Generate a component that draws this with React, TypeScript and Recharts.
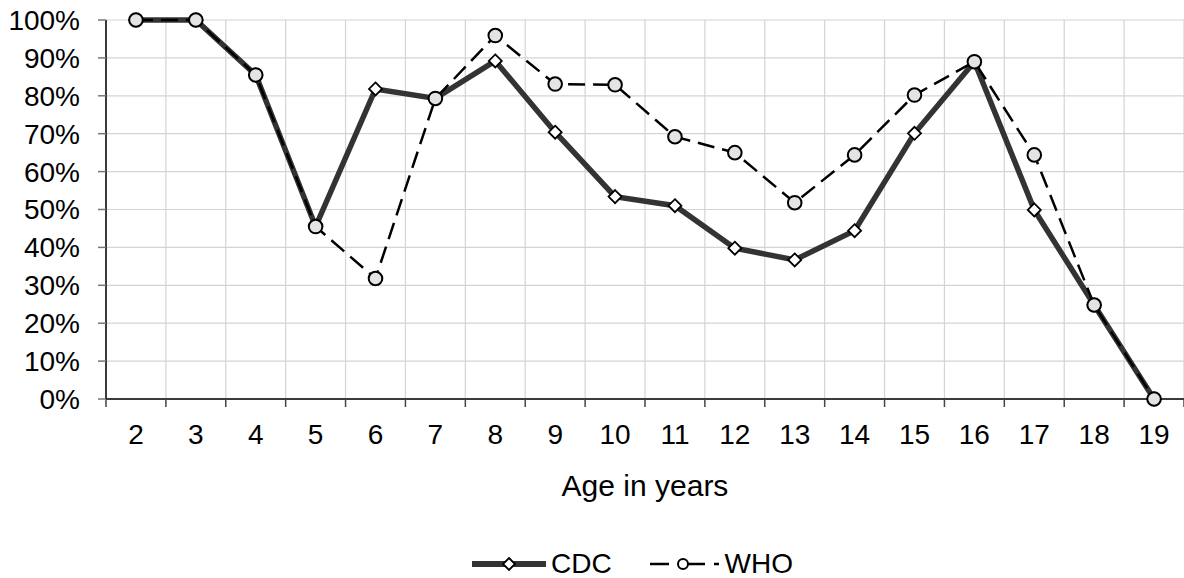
import { LineChart, Line, XAxis, YAxis, CartesianGrid, Legend } from "recharts";

const ages = [2, 3, 4, 5, 6, 7, 8, 9, 10, 11, 12, 13, 14, 15, 16, 17, 18, 19];
const cdc = [100, 100, 85.5, 45.5, 81.8, 79.3, 89.2, 70.4, 53.4, 51, 39.8, 36.7, 44.4, 70.1, 89, 49.9, 24.8, 0];
const who = [100, 100, 85.5, 45.5, 31.8, 79.3, 95.9, 83.1, 82.9, 69.2, 65, 51.8, 64.4, 80.2, 89, 64.4, 24.8, 0];
const yTicks = [0, 10, 20, 30, 40, 50, 60, 70, 80, 90, 100];

const data = ages.map((age, i) => ({ age, CDC: cdc[i], WHO: who[i] }));

const W = 1184;
const H = 578;
const yAxisW = 106;
const legendH = 40;
const font = "'Liberation Sans', Arial, sans-serif";

// gridlines and tick marks sit between the ages, labels in the middle
const lastAge = ages[ages.length - 1];
const bounds = [...ages.map((a) => a - 0.5), lastAge + 0.5];
const halfBand = (W - yAxisW) / ages.length / 2;

const AgeTick = (props: any) => {
  const { x, y, payload } = props;
  if (payload.value > lastAge) return <g />;
  return (
    <text x={x + halfBand} y={y} dy="0.71em" textAnchor="middle" fontSize={28} fill="#000" fontFamily={font}>
      {payload.value + 0.5}
    </text>
  );
};

const Diamond = (props: any) => {
  const { cx, cy, index } = props;
  const s = 6.5;
  return (
    <path
      key={`cdc-${index}`}
      d={`M${cx},${cy - s}L${cx + s},${cy}L${cx},${cy + s}L${cx - s},${cy}Z`}
      fill="#fff"
      stroke="#000"
      strokeWidth={1.8}
    />
  );
};

const Ring = (props: any) => {
  const { cx, cy, index } = props;
  return <circle key={`who-${index}`} cx={cx} cy={cy} r={6.8} fill="#e4e4e4" stroke="#000" strokeWidth={2} />;
};

const renderLegend = () => (
  <div
    style={{
      height: legendH,
      boxSizing: "border-box",
      display: "flex",
      justifyContent: "center",
      alignItems: "center",
      paddingLeft: 81,
      paddingTop: 12,
      fontFamily: font,
      fontSize: 28,
      color: "#000",
    }}
  >
    <svg width={74} height={20}>
      <line x1={0} y1={10} x2={74} y2={10} stroke="#333" strokeWidth={6} strokeLinecap="round" />
      <path d="M37,4L43,10L37,16L31,10Z" fill="#fff" stroke="#000" strokeWidth={1.8} />
    </svg>
    <span style={{ marginLeft: 5 }}>CDC</span>
    <svg width={70} height={20} style={{ marginLeft: 38 }}>
      <line x1={0} y1={10} x2={19} y2={10} stroke="#000" strokeWidth={2.5} />
      <circle cx={33} cy={10} r={5} fill="#fff" stroke="#000" strokeWidth={2} />
      <line x1={38} y1={10} x2={55} y2={10} stroke="#000" strokeWidth={2.5} />
      <line x1={64} y1={10} x2={69} y2={10} stroke="#000" strokeWidth={2.5} />
    </svg>
    <span style={{ marginLeft: 5 }}>WHO</span>
  </div>
);

export default function App() {
  return (
    <div style={{ width: W, height: H, background: "#fff" }}>
      <style>{"body{margin:0}"}</style>
      <LineChart width={W} height={H} data={data} margin={{ top: 20, right: 0, bottom: 0, left: 0 }}>
        <CartesianGrid stroke="#d4d4d4" strokeWidth={1.2} />
        <XAxis
          dataKey="age"
          type="number"
          domain={[bounds[0], bounds[bounds.length - 1]]}
          ticks={bounds}
          interval={0}
          tick={<AgeTick />}
          tickSize={8}
          tickMargin={17}
          axisLine={{ stroke: "#000", strokeWidth: 1.5 }}
          tickLine={{ stroke: "#444", strokeWidth: 1.5 }}
          height={H - 20 - 379 - legendH}
          label={{ value: "Age in years", position: "insideTop", offset: 76, fontSize: 30, fill: "#000", fontFamily: font }}
        />
        <YAxis
          domain={[0, 100]}
          ticks={yTicks}
          interval={0}
          tickFormatter={(v: number) => `${v}%`}
          width={yAxisW}
          tickSize={8}
          tickMargin={18}
          tick={{ fontSize: 28, fill: "#000", fontFamily: font }}
          axisLine={{ stroke: "#000", strokeWidth: 1.5 }}
          tickLine={{ stroke: "#777", strokeWidth: 1.5 }}
        />
        <Legend verticalAlign="bottom" content={renderLegend} />
        <Line
          dataKey="CDC"
          stroke="#333"
          strokeWidth={5.5}
          dot={Diamond}
          activeDot={false}
          isAnimationActive={false}
        />
        <Line
          dataKey="WHO"
          stroke="#000"
          strokeWidth={2.5}
          strokeDasharray="17 8"
          dot={Ring}
          activeDot={false}
          isAnimationActive={false}
        />
      </LineChart>
    </div>
  );
}
